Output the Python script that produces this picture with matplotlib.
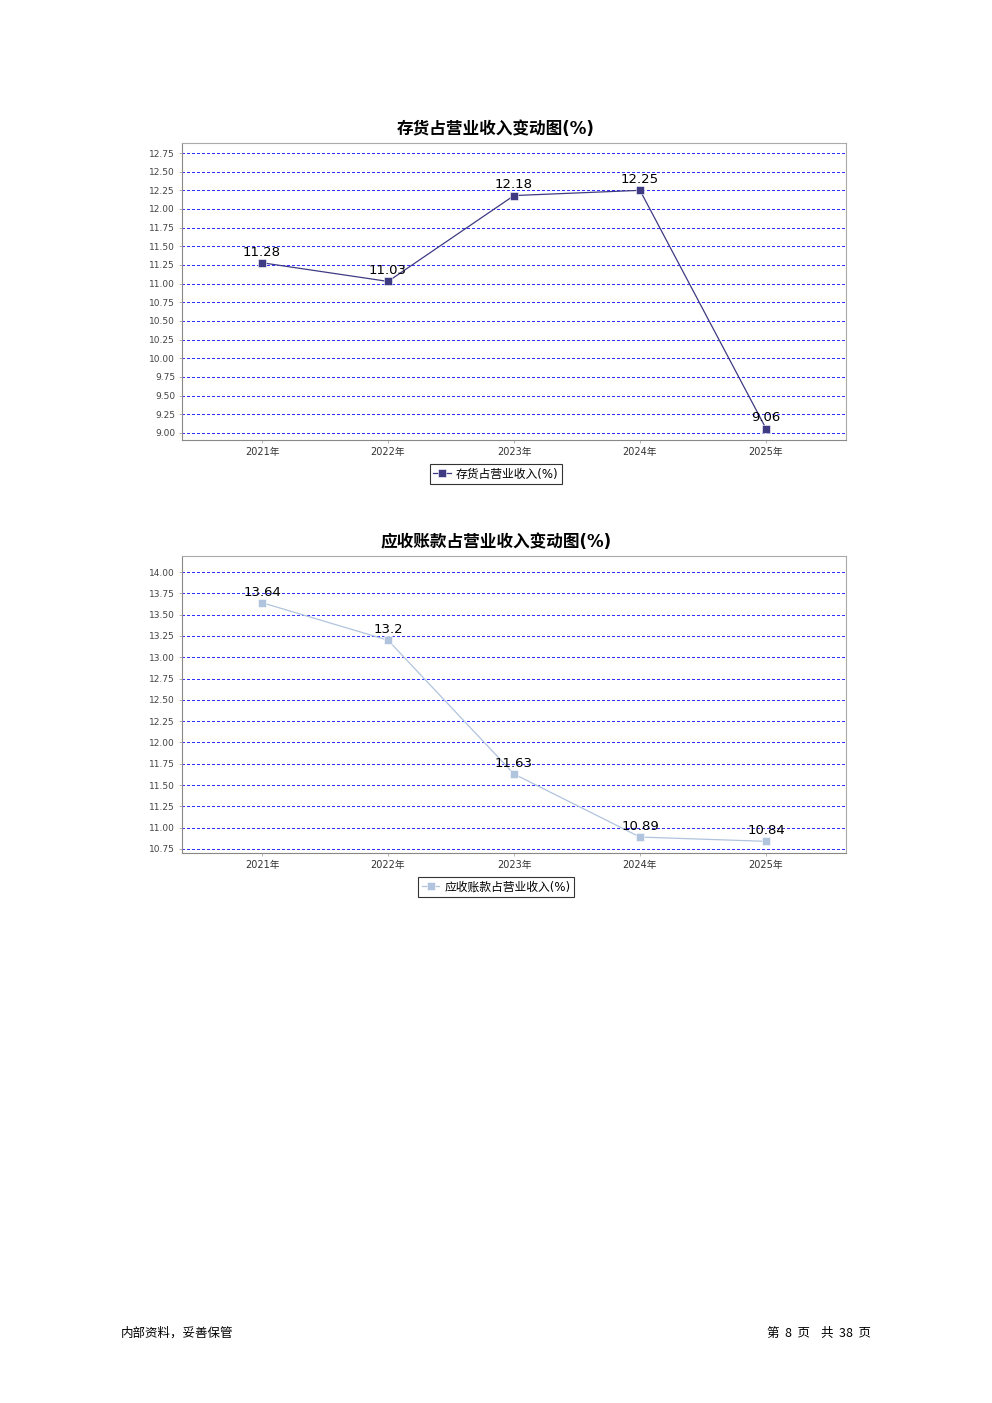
import matplotlib
matplotlib.use('Agg')
import numpy as np
from matplotlib import pyplot as plt

plt.rcParams['font.family'] = ['DejaVu Sans', 'Noto Sans CJK SC']

#data
years = ['2021年', '2022年', '2023年', '2024年', '2025年']
inventory_pct = [11.28, 11.03, 12.18, 12.25, 9.06]
receivable_pct = [13.64, 13.2, 11.63, 10.89, 10.84]
inventory_labels = ['11.28', '11.03', '12.18', '12.25', '9.06']
receivable_labels = ['13.64', '13.2', '11.63', '10.89', '10.84']

W, H = 992, 1403
fig = plt.figure(figsize=(W / 100, H / 100), dpi=100)

def px_axes(left, top, right, bottom):
    return fig.add_axes([left / W, 1 - bottom / H, (right - left) / W, (bottom - top) / H])

def draw_chart(ax, values, labels, color, ylim, yticks, title, legend_name, title_y, legend_y):
    x = np.arange(len(years))
    ax.plot(x, values, color=color, lw=0.9, marker='s', ms=6, mec='white', mew=0.4,
            label=legend_name, zorder=3)
    for xi, v, lab in zip(x, values, labels):
        ax.annotate(lab, (xi, v), xytext=(0, 3), textcoords='offset points',
                    ha='center', va='bottom', fontsize=9.5, color='black')
    ax.set_xlim(-0.635, len(years) - 1 + 0.635)
    ax.set_ylim(*ylim)
    ax.set_yticks(yticks)
    ax.set_yticklabels(['%.2f' % t for t in yticks], fontsize=6.5, color='#444444')
    ax.set_xticks(x)
    ax.set_xticklabels(years, fontsize=7, color='#333333')
    ax.tick_params(axis='both', length=2, width=0.5, color='#999999', pad=3)
    ax.grid(axis='y', color='#3030ff', ls=(0, (2, 2)), lw=0.8, antialiased=False)
    for s in ax.spines.values():
        s.set_color('#aaaaaa')
        s.set_linewidth(0.8)
    ax.spines['left'].set_color('#888888')
    ax.spines['bottom'].set_color('#888888')
    fig.text(496 / W, 1 - title_y / H, title, ha='center', va='center',
             fontsize=12, fontweight='bold', family=['DejaVu Sans', 'Noto Sans CJK SC'])
    leg = ax.legend(loc='center', bbox_to_anchor=(496 / W, 1 - legend_y / H),
                    bbox_transform=fig.transFigure, fontsize=8.5, frameon=True,
                    fancybox=False, edgecolor='black', handlelength=1.5,
                    borderpad=0.3, handletextpad=0.4)
    leg.get_frame().set_linewidth(0.8)

#chart 1
ax1 = px_axes(182, 143, 846, 440)
draw_chart(ax1, inventory_pct, inventory_labels, '#3f3b82', (8.906, 12.884),
           np.arange(9.0, 12.76, 0.25), '存货占营业收入变动图(%)', '存货占营业收入(%)', 129, 474)

#chart 2
ax2 = px_axes(182, 556, 846, 853)
draw_chart(ax2, receivable_pct, receivable_labels, '#b0c4de', (10.703, 14.188),
           np.arange(10.75, 14.01, 0.25), '应收账款占营业收入变动图(%)', '应收账款占营业收入(%)', 542, 887)

#footer
fig.text(121 / W, 1 - 1333 / H, '内部资料，妥善保管', ha='left', va='center', fontsize=9,
         family=['Noto Sans CJK SC', 'DejaVu Sans'])
fig.text(871 / W, 1 - 1333 / H, '第  8  页    共  38  页', ha='right', va='center', fontsize=9,
         family=['Noto Sans CJK SC', 'DejaVu Sans'])

plt.savefig('out.png', dpi=100)
